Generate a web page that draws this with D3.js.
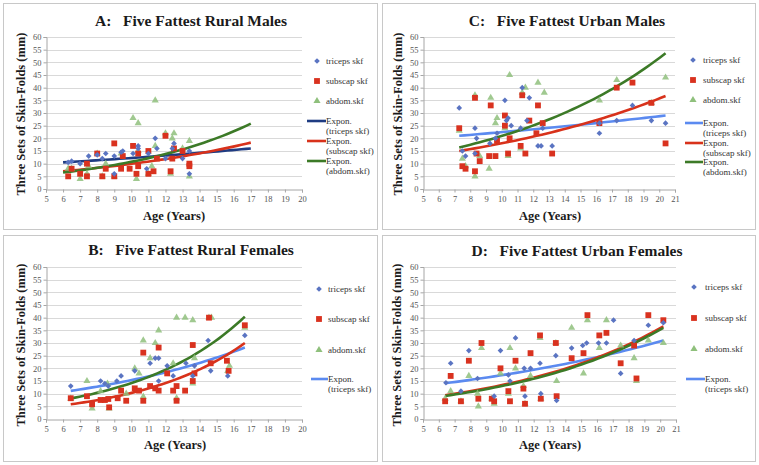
<!DOCTYPE html>
<html>
<head>
<meta charset="utf-8">
<title>Five Fattest - Skin-Folds</title>
<script src="https://cdn.jsdelivr.net/npm/d3@7"></script>
<style>
  body { margin: 0; background: #fff; }
  text { font-family: "Liberation Serif", "DejaVu Serif", serif; }
</style>
</head>
<body>
<div id="chart"></div>
<script>

// ---- data (age, mm) ----
var ruralMaleTriceps = [[6.3,10.5],[6.5,11],[7.0,10],[7.5,13],[8.0,13.5],[8.3,12],[8.5,14],[9.0,13],[9.0,6],
  [9.4,14.5],[9.5,15],[10.1,14],[10.4,17],[10.4,16],[10.9,8],[11.0,14],[11.4,20],[11.5,16],[12.0,12],
  [12.4,16],[12.5,18],[13.0,12],[13.4,15],[13.4,6]];
var ruralMaleSubscap = [[6.3,5],[6.5,8],[7.0,6],[7.4,10],[7.4,5],[8.0,14],[8.3,5],[8.5,8],[9.0,18],[9.0,5],
  [9.4,8],[9.5,13],[9.9,8],[10.1,17],[10.3,6],[10.4,14],[10.4,9],[11.0,15],[11.0,6],[11.3,7],[11.5,12],
  [12.0,21],[12.3,7],[12.4,12],[12.5,16],[13.0,15],[13.4,10],[13.4,9]];
var ruralMaleAbdom = [[6.3,8],[6.5,8],[7.0,4],[7.4,6],[7.5,9],[8.0,14],[8.3,5],[8.5,10],[9.0,5],[9.4,14],
  [10.1,28],[10.3,4],[10.4,26],[10.4,15],[11.0,6],[11.2,9],[11.4,35],[11.4,17],[12.0,22],[12.3,6],
  [12.4,20],[12.5,22],[13.0,16],[13.4,19],[13.4,5]];
var ruralMaleTrends = [["triceps",6,10.5,17,16],["subscap",6,7,17,18.3],["abdom",6,6.5,17,25.8]];

var urbanMaleTriceps = [[7.3,32],[7.5,15],[7.7,13],[8.3,24],[8.3,14],[8.4,20],[9.25,18],[9.6,20],[9.7,22],
  [10.2,35],[10.3,27],[10.4,28],[10.6,25],[11.2,24],[11.3,40],[11.6,27],[11.75,36],[12.3,17],[12.5,17],
  [12.6,24],[13.2,17],[16.2,22],[16.2,26],[17.3,27],[18.3,33],[19.5,27],[20.4,26]];
var urbanMaleSubscap = [[7.3,24],[7.5,9],[7.7,8],[8.3,36],[8.3,7],[8.4,14],[8.6,11],[9.2,13],[9.3,33],
  [9.6,13],[9.7,19],[10.2,29],[10.2,25],[10.4,14],[10.5,20],[11.2,17],[11.3,37],[11.5,14],[11.75,27],
  [12.2,22],[12.3,33],[12.6,26],[13.2,14],[16.2,26],[17.3,40],[18.3,42],[19.5,34],[20.4,18]];
var urbanMaleAbdom = [[7.3,23],[7.5,12],[7.7,9],[8.3,37],[8.3,5],[8.6,13],[9.2,8],[9.3,36],[9.6,26],
  [9.7,28],[10.2,24],[10.4,13],[10.5,45],[11.2,16],[11.3,38],[11.5,40],[12.3,42],[12.7,38],[16.2,35],
  [17.3,43],[19.5,34],[20.4,44]];
var urbanMaleTrends = [["triceps",7.3,21,20.4,29],["subscap",7.3,15,20.4,36.7],["abdom",7.3,16.4,20.4,53.6]];

var ruralFemaleTriceps = [[6.45,13],[8.2,15],[8.45,14],[8.65,13],[9.15,15],[9.4,17],[10.2,19],[11.1,22],
  [11.4,24],[11.6,24],[11.6,15],[12.1,21],[12.45,17],[13.2,22],[13.6,17],[13.7,21],[14.5,31],[14.65,19],
  [15.65,17],[16.65,33]];
var ruralFemaleSubscap = [[6.45,8.2],[7.4,9],[7.7,5.8],[8.2,7.5],[8.45,7.5],[8.65,7.9],[8.7,4.6],[9.2,8.2],
  [9.4,11.2],[9.7,7.2],[10.2,12.1],[10.45,11.2],[10.7,26.2],[10.7,7.2],[11.1,13],[11.4,12.1],[11.6,28.2],
  [11.6,11.2],[12.1,18],[12.45,11.2],[12.65,13],[12.65,7.2],[13.15,11.2],[13.6,29.2],[13.6,15],[13.7,18],
  [14.55,40],[14.65,22],[15.6,23],[15.7,19],[16.65,37]];
var ruralFemaleAbdom = [[6.45,8],[7.4,15],[7.7,4.2],[8.2,11],[8.6,14],[8.7,4.2],[9.7,10],[10.2,20],[10.45,18],
  [10.7,31],[10.7,8.8],[11.1,24],[11.4,30],[11.6,35],[12.45,22],[12.65,40],[12.65,8.2],[13.15,40],[13.6,39],
  [13.7,24],[13.6,14],[14.55,40],[14.7,40],[15.65,19],[15.75,21],[16.65,36]];
var ruralFemaleTrends = [["triceps",6.45,11.1,16.65,28.2],["subscap",6.45,5.8,16.65,30],["abdom",6.45,8.1,16.65,40.4]];

var urbanFemaleTriceps = [[6.45,14.3],[6.75,22],[7.4,11],[7.9,27],[8.45,16],[9.5,9],[9.9,27],[10.4,17.4],
  [10.5,15],[10.85,32],[11.4,20],[11.45,9],[11.8,20],[12.4,22],[12.45,10],[13.4,25],[13.45,7.3],[14.4,28],
  [15.1,29],[15.35,30],[16.1,30],[16.6,30],[17.05,39],[17.5,18],[18.35,31],[19.25,37],[20.2,38]];
var urbanFemaleSubscap = [[6.4,7],[6.75,17],[7.4,7],[7.9,23],[8.5,8],[8.7,30],[9.35,8],[9.5,7],[9.9,20],
  [10.4,11],[10.5,7],[10.85,23],[11.35,12],[11.45,6],[11.8,26],[12.4,33],[12.45,8],[13.4,30],[13.45,9],
  [14.4,24],[15.15,26],[15.4,41],[16.15,33],[16.6,34],[17.5,22],[18.35,29],[18.5,16],[19.25,41],[20.2,39]];
var urbanFemaleAbdom = [[6.4,8],[6.75,11],[7.4,7],[7.9,17],[8.45,10],[8.5,5],[8.7,28],[9.35,8],[9.5,6],
  [9.9,18],[10.4,10],[10.5,28],[10.85,20],[11.35,13],[11.45,6],[11.8,17],[12.4,32],[12.45,8],[13.4,30],
  [13.45,15],[14.4,36],[15.15,18],[15.4,39],[16.15,28],[16.6,39],[17.5,29],[18.35,24],[18.5,15],
  [19.25,31],[20.2,30]];
var urbanFemaleTrends = [["triceps",6.4,14.1,20.2,31],["subscap",6.4,9.4,20.2,36.6],["abdom",6.4,9.1,20.2,36]];

var yTicks = d3.range(0, 61, 5);
var seriesNames = ["triceps skf", "subscap skf", "abdom.skf"];
var exponNames = ["(triceps skf)", "(subscap skf)", "(abdom.skf)"];

var panels = [
  { title: "A:   Five Fattest Rural Males", frame: [3, 3, 374, 226], xd: [5, 20], xr: [46, 302], yr: [189, 37],
    data: [ruralMaleTriceps, ruralMaleSubscap, ruralMaleAbdom], trends: ruralMaleTrends, tricepsLine: "#1f3c82",
    ylab: [21, 114], xlab: [174, 220], title_y: 26, title_x: 191,
    legend: { mx: 317, tx: 326, ys: [61, 81, 101], lx0: 307, lys: [121, 141, 161], count: 3 } },
  { title: "C:   Five Fattest Urban Males", frame: [382, 3, 373, 226], xd: [5, 21], xr: [423, 675], yr: [189, 37],
    data: [urbanMaleTriceps, urbanMaleSubscap, urbanMaleAbdom], trends: urbanMaleTrends, tricepsLine: "#5b8af0",
    ylab: [398, 114], xlab: [550, 220], title_y: 26, title_x: 567,
    legend: { mx: 693, tx: 703, ys: [60, 80, 100], lx0: 685, lys: [123, 143, 162], count: 3 } },
  { title: "B:   Five Fattest Rural Females", frame: [3, 235, 374, 226], xd: [5, 20], xr: [46, 302], yr: [419, 267],
    data: [ruralFemaleTriceps, ruralFemaleSubscap, ruralFemaleAbdom], trends: ruralFemaleTrends, tricepsLine: "#5b8af0",
    ylab: [21, 345], xlab: [175, 449], title_y: 255, title_x: 191,
    legend: { mx: 319, tx: 328, ys: [289, 319, 350], lx0: 311, lys: [379], count: 1 } },
  { title: "D:   Five Fattest Urban Females", frame: [382, 235, 373, 226], xd: [5, 21], xr: [423, 676], yr: [419, 267],
    data: [urbanFemaleTriceps, urbanFemaleSubscap, urbanFemaleAbdom], trends: urbanFemaleTrends, tricepsLine: "#5b8af0",
    ylab: [397, 345], xlab: [550, 449], title_y: 256, title_x: 577,
    legend: { mx: 694, tx: 705, ys: [287, 318, 349], lx0: 686, lys: [379], count: 1 } }
];

var markerFill = ["#5a74c2", "#d9321f", "#8fc07c"];
var markerShape = [d3.symbolSquare, d3.symbolSquare, d3.symbolTriangle];
var markerSize = [16, 34, 22];
var markerRot = [45, 0, 0];
var redLine = "#d8321b", greenLine = "#3c7a27";

var svg = d3.select("#chart").append("svg")
    .attr("width", 759)
    .attr("height", 465);

svg.append("rect").attr("width", 759).attr("height", 465).attr("fill", "#fff");

panels.forEach(function(p) {
    var g = svg.append("g");
    var x = d3.scaleLinear().domain(p.xd).range(p.xr);
    var y = d3.scaleLinear().domain([0, 60]).range(p.yr);

    g.append("rect")
        .attr("x", p.frame[0] + 0.5).attr("y", p.frame[1] + 0.5)
        .attr("width", p.frame[2]).attr("height", p.frame[3])
        .attr("fill", "none").attr("stroke", "#c8c8c8");

    // gridlines
    g.selectAll(".grid").data(yTicks.slice(1)).enter().append("line")
        .attr("x1", p.xr[0]).attr("x2", p.xr[1])
        .attr("y1", function(d) { return Math.round(y(d)) + 0.5; })
        .attr("y2", function(d) { return Math.round(y(d)) + 0.5; })
        .attr("stroke", "#d9d9d9");

    // axes
    var yAxis = d3.axisLeft(y).tickValues(yTicks).tickSize(3).tickPadding(2);
    var xAxis = d3.axisBottom(x).ticks(p.xd[1] - p.xd[0]).tickSize(3).tickPadding(3);
    var ya = g.append("g").attr("transform", "translate(" + (p.xr[0] + 0.5) + ",0)").call(yAxis);
    var xa = g.append("g").attr("transform", "translate(0," + (Math.round(p.yr[0]) + 0.5) + ")").call(xAxis);
    [ya, xa].forEach(function(a) {
        a.selectAll("path, line").attr("stroke", "#a6a6a6");
        a.selectAll("text").attr("fill", "#555").style("font-size", "8.5px")
            .style("font-family", '"Liberation Serif", serif');
    });

    // trend lines
    var trendColors = [p.tricepsLine, redLine, greenLine];
    var line = d3.line().x(function(d) { return x(d[0]); }).y(function(d) { return y(d[1]); });
    p.trends.forEach(function(t, i) {
        var pts = [];
        for (var k = 0; k <= 40; k++) {
            var xv = t[1] + (t[3] - t[1]) * k / 40;
            pts.push([xv, t[2] * Math.pow(t[4] / t[2], (xv - t[1]) / (t[3] - t[1]))]);
        }
        g.append("path").datum(pts)
            .attr("d", line)
            .attr("fill", "none")
            .attr("stroke", trendColors[i])
            .attr("stroke-width", 2.6);
    });

    // markers: abdom first so squares and diamonds sit on top
    [2, 1, 0].forEach(function(s) {
        g.selectAll(".m" + s).data(p.data[s]).enter().append("path")
            .attr("transform", function(d) {
                return "translate(" + x(d[0]) + "," + y(d[1]) + ") rotate(" + markerRot[s] + ")";
            })
            .attr("d", d3.symbol().type(markerShape[s]).size(markerSize[s]))
            .attr("fill", markerFill[s])
            .attr("fill-opacity", s == 2 ? 0.85 : 1);
    });

    // titles
    g.append("text").attr("x", p.title_x).attr("y", p.title_y)
        .attr("text-anchor", "middle").attr("font-weight", "bold")
        .style("font-size", "15.5px").attr("fill", "#1a1a1a")
        .attr("xml:space", "preserve")
        .text(p.title);

    g.append("text")
        .attr("transform", "translate(" + (p.ylab[0] + 4) + "," + p.ylab[1] + ") rotate(-90)")
        .attr("text-anchor", "middle").attr("font-weight", "bold")
        .style("font-size", "12.5px").attr("fill", "#1a1a1a")
        .text("Three Sets of Skin-Folds (mm)");

    g.append("text").attr("x", p.xlab[0]).attr("y", p.xlab[1])
        .attr("text-anchor", "middle").attr("font-weight", "bold")
        .style("font-size", "12.5px").attr("fill", "#1a1a1a")
        .text("Age (Years)");

    // legend
    var L = p.legend;
    L.ys.forEach(function(ly, s) {
        g.append("path")
            .attr("transform", "translate(" + L.mx + "," + ly + ") rotate(" + markerRot[s] + ")")
            .attr("d", d3.symbol().type(markerShape[s]).size(markerSize[s]))
            .attr("fill", markerFill[s]);
        g.append("text").attr("x", L.tx).attr("y", ly + 3)
            .style("font-size", "9px").attr("fill", "#333")
            .text(seriesNames[s]);
    });
    for (var i = 0; i < L.count; i++) {
        var ly = L.lys[i];
        g.append("line").attr("x1", L.lx0).attr("x2", L.tx)
            .attr("y1", ly).attr("y2", ly)
            .attr("stroke", trendColors[i]).attr("stroke-width", 2.6);
        g.append("text").attr("x", L.tx).attr("y", ly + 3)
            .style("font-size", "9px").attr("fill", "#333").text("Expon.");
        g.append("text").attr("x", L.tx).attr("y", ly + 13)
            .style("font-size", "9px").attr("fill", "#333").text(exponNames[i]);
    }
});

</script>
</body>
</html>
